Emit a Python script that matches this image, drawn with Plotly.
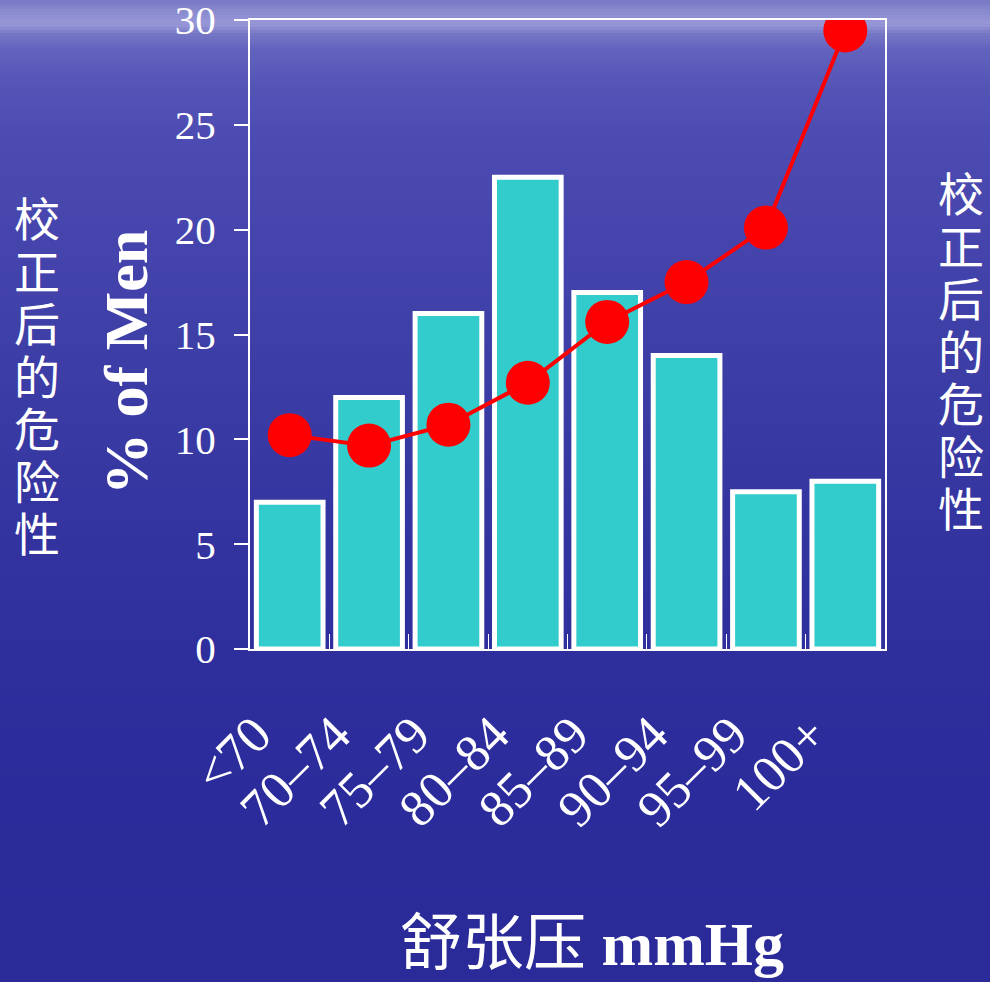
import plotly.graph_objects as go

# Diastolic blood pressure groups
categories = ["<70", "70–74", "75–79", "80–84", "85–89", "90–94", "95–99", "100+"]
# Share of men in each group (%)
pct_men = [7.0, 12.0, 16.0, 22.5, 17.0, 14.0, 7.5, 8.0]
# Adjusted risk in each group
adj_risk = [10.2, 9.7, 10.7, 12.7, 15.6, 17.5, 20.1, 29.5]
y_ticks = [0, 5, 10, 15, 20, 25, 30]

W, H = 990, 982
ML, MR, MT, MB = 250, 105, 20, 333
PW, PH = W - ML - MR, H - MT - MB


def px_to_paper(px, py):
    return (px - ML) / PW, (H - MB - py) / PH


fig = go.Figure()
fig.add_trace(go.Bar(
    x=categories, y=pct_men,
    marker=dict(color="#33cccc", line=dict(color="white", width=5)),
    showlegend=False,
))
fig.add_trace(go.Scatter(
    x=categories, y=adj_risk, mode="lines+markers",
    line=dict(color="#ff0000", width=4),
    marker=dict(color="#ff0000", size=44),
    showlegend=False,
))

# vertical background gradient (deep blue sea with a light band near the top)
stops = [(0, (118, 118, 196)), (10, (136, 136, 206)), (24, (152, 152, 216)),
         (34, (118, 118, 198)), (50, (98, 98, 190)), (80, (86, 86, 184)),
         (130, (76, 76, 178)), (250, (68, 68, 172)), (420, (58, 58, 164)),
         (620, (47, 47, 158)), (800, (43, 43, 155)), (982, (42, 42, 152))]


def color_at(py):
    for (y0, c0), (y1, c1) in zip(stops[:-1], stops[1:]):
        if y0 <= py <= y1:
            t = (py - y0) / (y1 - y0) if y1 > y0 else 0
            return "rgb(%d,%d,%d)" % tuple(round(a + (b - a) * t) for a, b in zip(c0, c1))
    return "rgb(%d,%d,%d)" % stops[-1][1]


shapes = []
py = 0
while py < H:
    step = 3 if py < 140 else 12
    x0, y_top = px_to_paper(0, py)
    x1, y_bot = px_to_paper(W, py + step + 1)
    shapes.append(dict(type="rect", xref="paper", yref="paper", layer="below",
                       x0=x0, x1=x1, y0=y_bot, y1=y_top,
                       fillcolor=color_at(py + step / 2), line=dict(width=0)))
    py += step

annotations = []
# side captions, one character per row
side_label = "校正后的危险性"
for i, ch in enumerate(side_label):
    for cx, top in ((37, 216), (961, 191)):
        ax, ay = px_to_paper(cx, top + 52.5 * i)
        annotations.append(dict(text=ch, x=ax, y=ay, xref="paper", yref="paper",
                                showarrow=False, xanchor="center", yanchor="middle",
                                font=dict(family="Noto Sans CJK SC", size=46, color="white")))

tx, ty = px_to_paper(126, 363)
annotations.append(dict(text="<b>% of Men</b>", x=tx, y=ty, xref="paper", yref="paper",
                        showarrow=False, textangle=-90, xanchor="center", yanchor="middle",
                        font=dict(family="Liberation Serif", size=62, color="white")))
bx, by = px_to_paper(592, 944)
annotations.append(dict(text="舒张压 <b>mmHg</b>", x=bx, y=by, xref="paper", yref="paper",
                        showarrow=False, xanchor="center", yanchor="middle",
                        font=dict(family="Liberation Serif, Noto Sans CJK SC", size=62,
                                  color="white")))

fig.update_layout(
    width=W, height=H,
    margin=dict(l=ML, r=MR, t=MT, b=MB, autoexpand=False),
    paper_bgcolor="#2c2c9c", plot_bgcolor="rgba(0,0,0,0)",
    bargap=0.16,
    shapes=shapes, annotations=annotations,
    xaxis=dict(
        range=[-0.5, len(categories) - 0.5], automargin=False,
        showline=True, linecolor="white", linewidth=2, mirror=True,
        ticks="inside", tickson="boundaries", ticklen=15, tickcolor="white", tickwidth=1,
        tickangle=-45, ticklabelshift=-34, ticklabelstandoff=32,
        tickfont=dict(family="Liberation Serif", size=52, color="white"),
        showgrid=False, zeroline=False,
    ),
    yaxis=dict(
        range=[0, 30], tickvals=y_ticks, automargin=False,
        showline=True, linecolor="white", linewidth=2, mirror=True,
        ticks="outside", ticklen=14, tickcolor="white", tickwidth=2,
        ticklabelstandoff=10, ticklabeloverflow="allow",
        tickfont=dict(family="Liberation Serif", size=41, color="white"),
        showgrid=False, zeroline=False,
    ),
)

fig.write_html("out.html")
